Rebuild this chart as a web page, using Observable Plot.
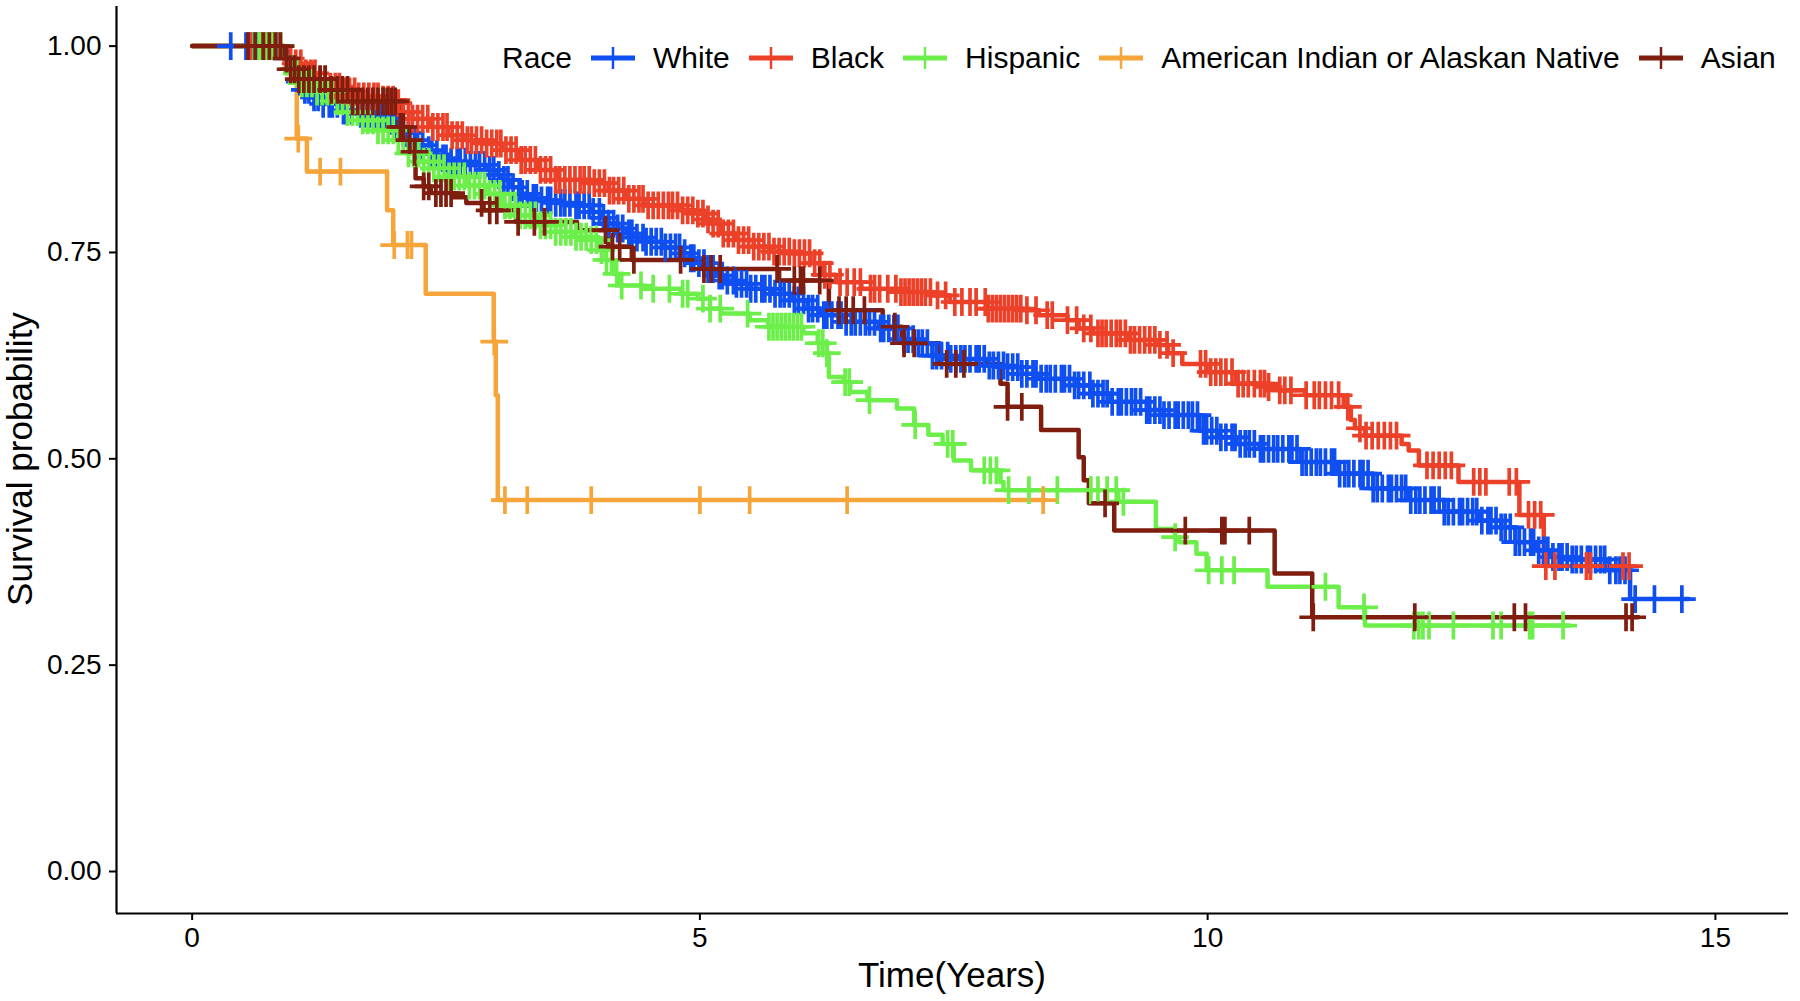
<!DOCTYPE html>
<html>
<head>
<meta charset="utf-8">
<script src="https://cdn.jsdelivr.net/npm/d3@7"></script>
<script src="https://cdn.jsdelivr.net/npm/@observablehq/plot@0.6"></script>
<style>
  html, body { margin: 0; padding: 0; background: #fff; }
  body { font-family: "Liberation Sans", Arial, Helvetica, sans-serif; color: #000; }
  #wrap { position: relative; width: 1800px; height: 1001px; overflow: hidden; }
  .ytitle { position: absolute; left: 19px; top: 459px; transform: translate(-50%, -50%) rotate(-90deg);
            font-size: 35px; line-height: 35px; white-space: nowrap; }
  .xtitle { position: absolute; left: 952px; top: 957px; transform: translateX(-50%);
            font-size: 35px; line-height: 35px; white-space: nowrap; }
  #legend { position: absolute; left: 502px; top: 43px; height: 30px; display: flex; align-items: center;
            font-size: 30px; line-height: 30px; white-space: nowrap; }
  #legend .title { margin-right: 19px; }
  #legend svg { display: block; margin-right: 18px; }
  #legend .lab { margin-right: 19px; }
</style>
</head>
<body>
<div id="wrap">
  <div id="chart"></div>
  <div class="ytitle">Survival probability</div>
  <div class="xtitle">Time(Years)</div>
  <div id="legend"></div>
</div>
<script>
// ---------- categories / styles ----------
const legendTitle = "Race";
const groups = ["White", "Black", "Hispanic", "American Indian or Alaskan Native", "Asian"];
const colors = ["#0f4ff2", "#ec4128", "#6cef4a", "#f6a53a", "#7f1d0f"];

// ---------- axis ticks ----------
const xTicks = [0, 5, 10, 15];
const yTicks = [0, 0.25, 0.5, 0.75, 1];
const xDomain = [-0.745, 15.72];
const yDomain = [-0.0509, 1.048];

// ---------- White ----------
const whiteTime = [0, 0.88, 0.92, 0.98, 1.04, 1.10, 1.18, 1.29, 1.47, 1.64, 1.82, 1.99, 2.06, 2.14, 2.21, 2.28, 2.35, 2.42, 2.55, 2.70, 2.91, 2.98, 3.05, 3.14, 3.22, 3.31, 3.40, 3.58, 3.75, 3.93, 4.02, 4.10, 4.19, 4.28, 4.37, 4.46, 4.63, 4.81, 4.90, 4.98, 5.07, 5.16, 5.25, 5.35, 5.50, 5.71, 5.92, 6.06, 6.18, 6.41, 6.76, 7.00, 7.11, 7.29, 7.46, 7.82, 8.00, 8.17, 8.34, 8.69, 8.87, 9.05, 9.40, 9.57, 9.92, 10.10, 10.28, 10.51, 10.92, 11.27, 11.63, 11.98, 12.33, 12.68, 12.89, 13.03, 13.24, 13.38, 13.56, 13.94, 14.16, 14.74];
const whiteSurv = [1, 0.995, 0.985, 0.972, 0.957, 0.947, 0.938, 0.930, 0.922, 0.918, 0.913, 0.902, 0.895, 0.886, 0.880, 0.874, 0.869, 0.864, 0.860, 0.856, 0.850, 0.844, 0.838, 0.829, 0.821, 0.816, 0.813, 0.810, 0.807, 0.799, 0.792, 0.785, 0.779, 0.773, 0.768, 0.763, 0.756, 0.749, 0.743, 0.737, 0.730, 0.722, 0.716, 0.712, 0.706, 0.700, 0.692, 0.682, 0.674, 0.666, 0.658, 0.645, 0.640, 0.625, 0.621, 0.613, 0.611, 0.603, 0.597, 0.589, 0.579, 0.569, 0.559, 0.553, 0.534, 0.526, 0.518, 0.512, 0.496, 0.482, 0.464, 0.450, 0.436, 0.425, 0.417, 0.399, 0.389, 0.381, 0.378, 0.365, 0.330, 0.330];
const whiteCensor = [0.38, 0.53, 0.56, 0.60, 0.63, 0.67, 0.71, 0.74, 0.79, 0.83, 0.93, 1.00, 1.06,
  1.11, 1.15, 1.20, 1.24, 1.29, 1.35, 1.38, 1.43, 1.49, 1.52, 1.57, 1.63, 1.66, 1.71, 1.76, 1.81, 1.85, 1.90, 1.96, 1.99,
  2.04, 2.08, 2.13, 2.19, 2.22, 2.27, 2.33, 2.36, 2.41, 2.47, 2.50, 2.55, 2.61, 2.64, 2.69, 2.74, 2.79, 2.83, 2.88, 2.93, 2.97,
  3.02, 3.07, 3.11, 3.16, 3.22, 3.25, 3.30, 3.36, 3.39, 3.44, 3.50, 3.53, 3.58, 3.63, 3.67, 3.72, 3.78, 3.81, 3.86, 3.91, 3.95,
  4.01, 4.05, 4.10, 4.15, 4.19, 4.24, 4.30, 4.33, 4.38, 4.44, 4.47, 4.52, 4.57, 4.62, 4.66, 4.71, 4.76, 4.80, 4.85, 4.91, 4.94, 4.99,
  5.04, 5.08, 5.13, 5.19, 5.22, 5.27, 5.33, 5.36, 5.41, 5.46, 5.50, 5.55, 5.61, 5.64, 5.69, 5.74, 5.79, 5.83, 5.88, 5.93, 5.97,
  6.02, 6.07, 6.11, 6.16, 6.22, 6.25, 6.30, 6.36, 6.39, 6.44, 6.49, 6.53, 6.58, 6.63, 6.67, 6.72, 6.78, 6.81, 6.86, 6.91, 6.95,
  7.01, 7.05, 7.10, 7.15, 7.19, 7.24, 7.29, 7.33, 7.38, 7.44, 7.47, 7.52, 7.57, 7.61, 7.66, 7.72, 7.75, 7.80, 7.85, 7.89, 7.94, 7.99,
  8.03, 8.08, 8.13, 8.17, 8.22, 8.28, 8.31, 8.36, 8.41, 8.45, 8.50, 8.56, 8.59, 8.64, 8.69, 8.73, 8.78, 8.84, 8.87, 8.92, 8.97,
  9.01, 9.06, 9.12, 9.15, 9.20, 9.25, 9.29, 9.34, 9.40, 9.43, 9.48, 9.53, 9.57, 9.62, 9.68, 9.71, 9.76, 9.81, 9.85, 9.90, 9.96, 9.99,
  10.04, 10.09, 10.13, 10.18, 10.24, 10.27, 10.32, 10.37, 10.41, 10.46, 10.52, 10.55, 10.60, 10.65, 10.69, 10.74, 10.80, 10.83, 10.88, 10.93, 10.97,
  11.02, 11.07, 11.11, 11.16, 11.22, 11.25, 11.30, 11.35, 11.39, 11.44, 11.50, 11.53, 11.58, 11.63, 11.67, 11.72, 11.78, 11.81, 11.86, 11.91, 11.95,
  12.00, 12.05, 12.09, 12.14, 12.20, 12.23, 12.28, 12.33, 12.37, 12.42, 12.48, 12.51, 12.56, 12.61, 12.65, 12.70, 12.76, 12.79, 12.84, 12.89, 12.93, 12.98,
  13.03, 13.07, 13.12, 13.18, 13.21, 13.26, 13.31, 13.35, 13.40, 13.46, 13.49, 13.54, 13.59, 13.63, 13.68, 13.74, 13.77, 13.82, 13.87, 13.91, 13.96, 14.02, 14.06, 14.11,
  14.21, 14.40, 14.67];

// ---------- Black ----------
const blackTime = [0, 0.88, 0.93, 0.975, 1.08, 1.22, 1.36, 1.50, 1.64, 1.85, 1.99, 2.06, 2.17, 2.35, 2.52, 2.70, 2.87, 3.05, 3.22, 3.40, 3.58, 3.93, 4.10, 4.28, 4.45, 4.81, 4.98, 5.05, 5.11, 5.21, 5.35, 5.53, 5.71, 5.92, 6.09, 6.20, 6.34, 6.59, 6.97, 7.29, 7.46, 7.82, 8.17, 8.34, 8.62, 8.73, 8.87, 9.22, 9.50, 9.61, 9.75, 9.99, 10.28, 10.57, 10.71, 10.96, 11.34, 11.41, 11.45, 11.55, 11.91, 11.98, 12.08, 12.47, 13.07, 13.31, 14.15];
const blackSurv = [1, 0.995, 0.985, 0.979, 0.967, 0.959, 0.951, 0.945, 0.939, 0.935, 0.931, 0.920, 0.912, 0.902, 0.892, 0.886, 0.882, 0.874, 0.862, 0.850, 0.838, 0.834, 0.825, 0.815, 0.807, 0.801, 0.797, 0.790, 0.785, 0.773, 0.765, 0.757, 0.751, 0.749, 0.737, 0.723, 0.714, 0.706, 0.702, 0.698, 0.690, 0.682, 0.680, 0.674, 0.668, 0.658, 0.652, 0.644, 0.638, 0.628, 0.615, 0.605, 0.591, 0.587, 0.583, 0.577, 0.563, 0.547, 0.537, 0.528, 0.518, 0.510, 0.492, 0.472, 0.432, 0.370, 0.370];
const blackCensor = [0.57, 0.62, 0.68, 0.72, 0.80, 0.86,
  0.97, 1.02, 1.07, 1.12, 1.17, 1.21, 1.26, 1.31, 1.36, 1.41, 1.45, 1.50, 1.55, 1.60, 1.64, 1.69, 1.74, 1.79, 1.83, 1.88, 1.93, 1.98,
  2.03, 2.08, 2.13, 2.17, 2.22, 2.27, 2.32, 2.37, 2.42, 2.47, 2.51, 2.56, 2.61, 2.66, 2.71, 2.75, 2.80, 2.85, 2.90, 2.95,
  3.00, 3.04, 3.09, 3.14, 3.19, 3.24, 3.28, 3.33, 3.38, 3.43, 3.48, 3.53, 3.58, 3.62, 3.67, 3.72, 3.77, 3.82, 3.86, 3.91, 3.96,
  4.01, 4.06, 4.11, 4.15, 4.20, 4.25, 4.30, 4.35, 4.40, 4.44, 4.49, 4.54, 4.59, 4.64, 4.69, 4.73, 4.78, 4.83, 4.88, 4.93, 4.98,
  5.03, 5.08, 5.13, 5.18, 5.23, 5.28, 5.33, 5.38, 5.43, 5.48, 5.53, 5.58, 5.63, 5.68, 5.73, 5.78, 5.83, 5.88, 5.93, 5.98,
  6.03, 6.08, 6.13, 6.18, 6.23, 6.28, 6.38, 6.45, 6.52, 6.58, 6.68, 6.72, 6.77, 6.85, 6.93, 6.98,
  7.02, 7.06, 7.10, 7.14, 7.18, 7.22, 7.27, 7.34, 7.42, 7.51, 7.58, 7.66, 7.72, 7.81, 7.84, 7.88, 7.92, 7.96,
  8.00, 8.04, 8.08, 8.12, 8.16, 8.22, 8.31, 8.42, 8.47, 8.62, 8.71, 8.78, 8.85, 8.92, 8.96,
  9.00, 9.05, 9.10, 9.14, 9.19, 9.24, 9.28, 9.33, 9.38, 9.43, 9.48, 9.53, 9.60, 9.66, 9.93, 9.98,
  10.03, 10.08, 10.13, 10.18, 10.24, 10.30, 10.35, 10.40, 10.46, 10.52, 10.56, 10.60, 10.71, 10.76, 10.82, 10.97,
  11.05, 11.10, 11.16, 11.22, 11.29, 11.38, 11.50, 11.56, 11.62, 11.68, 11.74, 11.80, 11.86,
  12.16, 12.22, 12.28, 12.34, 12.40, 12.62, 12.68, 12.74, 12.97, 13.04, 13.16, 13.22, 13.28, 13.33, 13.42, 13.73, 13.77, 14.09, 14.15];

// ---------- Hispanic ----------
const hispTime = [0, 0.88, 0.93, 0.98, 1.01, 1.08, 1.22, 1.40, 1.50, 1.64, 1.82, 1.99, 2.13, 2.24, 2.35, 2.52, 2.70, 2.91, 3.05, 3.22, 3.40, 3.58, 3.75, 3.93, 4.00, 4.07, 4.16, 4.21, 4.45, 4.81, 4.98, 5.10, 5.21, 5.49, 5.67, 6.02, 6.16, 6.25, 6.27, 6.41, 6.48, 6.65, 6.94, 7.11, 7.25, 7.39, 7.50, 7.67, 7.96, 7.99, 9.12, 9.49, 9.68, 9.72, 9.89, 9.99, 10.59, 11.29, 11.55, 13.56];
const hispSurv = [1, 0.990, 0.980, 0.972, 0.967, 0.955, 0.945, 0.933, 0.920, 0.910, 0.898, 0.886, 0.870, 0.860, 0.852, 0.842, 0.831, 0.821, 0.807, 0.795, 0.783, 0.775, 0.769, 0.765, 0.753, 0.741, 0.724, 0.710, 0.706, 0.700, 0.694, 0.682, 0.676, 0.668, 0.660, 0.652, 0.640, 0.628, 0.599, 0.593, 0.581, 0.571, 0.561, 0.541, 0.529, 0.518, 0.498, 0.486, 0.472, 0.462, 0.448, 0.415, 0.405, 0.399, 0.385, 0.365, 0.345, 0.320, 0.298, 0.298];
const hispCensor = [0.61, 0.66, 0.70, 0.74, 0.78, 0.82, 0.87,
  0.98, 1.03, 1.08, 1.13, 1.18, 1.23, 1.28, 1.33, 1.38, 1.43, 1.48, 1.53, 1.58, 1.63, 1.68, 1.73, 1.78, 1.83, 1.88, 1.93, 1.98,
  2.03, 2.08, 2.13, 2.18, 2.23, 2.28, 2.33, 2.38, 2.43, 2.48, 2.53, 2.58, 2.63, 2.68, 2.73, 2.78, 2.83, 2.88, 2.93, 2.98,
  3.03, 3.08, 3.13, 3.18, 3.23, 3.28, 3.33, 3.38, 3.43, 3.48, 3.53, 3.58, 3.63, 3.68, 3.73, 3.78, 3.83, 3.88, 3.93, 3.98,
  4.03, 4.08, 4.13, 4.18, 4.23, 4.42, 4.54, 4.70, 4.83, 4.88, 5.03, 5.10, 5.20, 5.47, 5.68, 5.72, 5.76, 5.80, 5.84, 5.88, 5.92, 5.96, 6.00,
  6.17, 6.21, 6.25, 6.43, 6.47, 6.67, 7.12, 7.44, 7.49, 7.80, 7.86, 7.92, 8.04, 8.24, 8.52, 8.85, 8.92, 9.01, 9.10, 9.17, 9.68,
  10.01, 10.14, 10.26, 11.16, 11.54, 12.03, 12.08, 12.12, 12.18, 12.42, 12.81, 12.89, 13.17, 13.20, 13.50];

// ---------- American Indian or Alaskan Native ----------
const aianTime = [0, 0.92, 1.03, 1.13, 1.92, 1.98, 2.30, 2.97, 2.99, 3.01, 8.40];
const aianSurv = [1, 0.967, 0.888, 0.848, 0.801, 0.759, 0.700, 0.642, 0.577, 0.450, 0.450];
const aianCensor = [1.045, 1.26, 1.46, 1.99, 2.12, 2.16, 2.975, 3.08, 3.30, 3.93, 5.00, 5.49, 6.45, 8.38];

// ---------- Asian ----------
const asianTime = [0, 0.90, 0.97, 1.04, 1.36, 1.57, 2.03, 2.10, 2.17, 2.20, 2.28, 2.35, 2.56, 2.70, 2.87, 3.19, 3.79, 4.10, 4.33, 5.02, 5.78, 6.27, 6.80, 6.99, 7.36, 7.96, 8.03, 8.36, 8.73, 8.78, 8.83, 9.08, 10.66, 11.03, 14.24];
const asianSurv = [1, 0.985, 0.972, 0.960, 0.947, 0.933, 0.902, 0.886, 0.872, 0.840, 0.830, 0.822, 0.817, 0.810, 0.801, 0.787, 0.777, 0.757, 0.741, 0.730, 0.716, 0.680, 0.660, 0.640, 0.615, 0.591, 0.563, 0.535, 0.502, 0.474, 0.446, 0.413, 0.361, 0.308, 0.308];
const asianCensor = [0.55, 0.62, 0.70, 0.76, 0.82, 0.87,
  0.93, 0.97, 1.01, 1.05, 1.10, 1.15, 1.20, 1.26, 1.31, 1.37, 1.43, 1.48, 1.53, 1.58, 1.63, 1.68, 1.73, 1.78, 1.83, 1.88, 1.92, 1.96, 2.00, 2.05, 2.08, 2.14, 2.19,
  2.28, 2.33, 2.40, 2.45, 2.50, 2.55, 2.85, 2.93, 3.00, 3.21, 3.37, 3.47, 4.07, 4.14, 4.21, 4.35, 4.81, 5.04, 5.11, 5.20, 5.76, 5.93, 5.99, 6.02, 6.18,
  6.37, 6.44, 6.51, 6.62, 6.92, 7.01, 7.11, 7.43, 7.52, 7.60, 8.03, 8.17, 8.99, 9.78, 10.14, 10.17, 10.41, 11.04, 12.04, 13.02, 13.13, 14.12, 14.18];

// ---------- build tables ----------
const series = [
  [groups[0], whiteTime, whiteSurv, whiteCensor],
  [groups[1], blackTime, blackSurv, blackCensor],
  [groups[2], hispTime, hispSurv, hispCensor],
  [groups[3], aianTime, aianSurv, aianCensor],
  [groups[4], asianTime, asianSurv, asianCensor]
];
const curveRows = [];
const censorRows = [];
for (const [group, times, survs, cens] of series) {
  times.forEach((t, i) => curveRows.push({group, t, s: survs[i]}));
  for (const c of cens) {
    const i = Math.max(0, d3.bisectRight(times, c) - 1);
    censorRows.push({group, t: c, s: survs[i]});
  }
}

const chart = Plot.plot({
  width: 1800,
  height: 1001,
  marginLeft: 116,
  marginRight: 12,
  marginTop: 6,
  marginBottom: 88,
  style: {fontFamily: '"Liberation Sans", Arial, Helvetica, sans-serif', background: "#fff", color: "#000", overflow: "visible"},
  x: {domain: xDomain},
  y: {domain: yDomain},
  color: {domain: groups, range: colors},
  marks: [
    Plot.axisX(xTicks, {tickSize: 7, tickPadding: 7, fontSize: 28, strokeWidth: 2, color: "#000", label: null}),
    Plot.axisY(yTicks, {tickSize: 7, tickPadding: 8, fontSize: 28, strokeWidth: 2, color: "#000", tickFormat: d3.format(".2f"), label: null}),
    Plot.ruleX([xDomain[0]], {stroke: "#000", strokeWidth: 2.2}),
    Plot.ruleY([yDomain[0]], {stroke: "#000", strokeWidth: 2.2}),
    Plot.line(curveRows, {x: "t", y: "s", z: "group", stroke: "group", curve: "step-after", strokeWidth: 4.5}),
    Plot.dot(censorRows, {x: "t", y: "s", stroke: "group", symbol: "plus", r: 9, strokeWidth: 3.7})
  ]
});
document.getElementById("chart").appendChild(chart);

// ---------- legend ----------
const legend = document.getElementById("legend");
const tt = document.createElement("span");
tt.className = "title";
tt.textContent = legendTitle;
legend.appendChild(tt);
groups.forEach((g, i) => {
  const ns = "http://www.w3.org/2000/svg";
  const svg = document.createElementNS(ns, "svg");
  svg.setAttribute("width", 44);
  svg.setAttribute("height", 26);
  const l1 = document.createElementNS(ns, "line");
  l1.setAttribute("x1", 0); l1.setAttribute("x2", 44); l1.setAttribute("y1", 13); l1.setAttribute("y2", 13);
  l1.setAttribute("stroke", colors[i]); l1.setAttribute("stroke-width", 5);
  const l2 = document.createElementNS(ns, "line");
  l2.setAttribute("x1", 22); l2.setAttribute("x2", 22); l2.setAttribute("y1", 2); l2.setAttribute("y2", 24);
  l2.setAttribute("stroke", colors[i]); l2.setAttribute("stroke-width", 2.5);
  svg.appendChild(l1); svg.appendChild(l2);
  legend.appendChild(svg);
  const lab = document.createElement("span");
  lab.className = "lab";
  lab.textContent = g;
  legend.appendChild(lab);
});
</script>
</body>
</html>
